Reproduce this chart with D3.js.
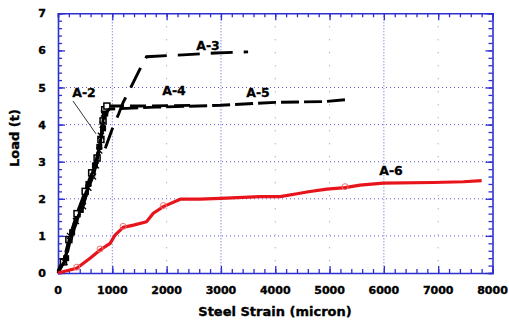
<!DOCTYPE html>
<html>
<head>
<meta charset="utf-8">
<script src="https://cdn.jsdelivr.net/npm/d3@7"></script>
<style>
  html, body { margin: 0; padding: 0; background: #fff; }
  svg { display: block; }
  .tick-label { font-family: "DejaVu Sans", sans-serif; font-weight: bold; font-size: 11px; fill: #000; stroke: #000; stroke-width: 0.35px; }
  .title { font-family: "DejaVu Sans", sans-serif; font-weight: bold; font-size: 13px; fill: #000; stroke: #000; stroke-width: 0.35px; }
  .series-label { font-family: "DejaVu Sans", sans-serif; font-weight: bold; font-size: 12.5px; fill: #000; stroke: #000; stroke-width: 0.3px; }
</style>
</head>
<body>
<svg id="chart" width="509" height="324"></svg>
<script>
// Load vs. steel strain for specimens A-2 … A-6
const strainA2 = [0, 120, 220, 330, 460, 560, 645, 700, 760, 790, 820, 845];
const loadA2   = [0.05, 0.3, 1.0, 1.4, 1.8, 2.3, 2.6, 2.9, 3.3, 3.7, 4.0, 4.3];

const strainA3 = [0, 180, 300, 480, 600, 720, 880, 990, 1120, 1200, 1340, 1510, 1630, 2300, 2900, 3500];
const loadA3   = [0.05, 0.6, 1.2, 1.9, 2.5, 3.0, 3.4, 3.85, 4.3, 4.6, 5.0, 5.5, 5.83, 5.88, 5.93, 5.96];

const strainA4 = [0, 100, 200, 350, 500, 620, 720, 790, 830, 860, 900, 1500, 2500];
const loadA4   = [0, 0.3, 0.9, 1.6, 2.2, 2.7, 3.1, 3.6, 4.1, 4.4, 4.5, 4.5, 4.52];

const strainA5 = [0, 150, 260, 420, 560, 680, 760, 830, 870, 950, 1800, 3000, 4000, 4900, 5350];
const loadA5   = [0, 0.4, 1.1, 1.7, 2.4, 2.9, 3.4, 3.9, 4.3, 4.42, 4.47, 4.52, 4.6, 4.62, 4.68];

const strainA6 = [0, 345, 590, 775, 960, 1050, 1200, 1390, 1630, 1755, 1940, 2250, 2615, 2985, 3720, 4090, 4455, 4610, 4950, 5285, 5560, 5990, 6910, 7465, 7800];
const loadA6   = [0, 0.13, 0.40, 0.62, 0.80, 1.02, 1.23, 1.29, 1.38, 1.61, 1.79, 1.99, 1.99, 2.01, 2.06, 2.06, 2.15, 2.19, 2.26, 2.30, 2.37, 2.42, 2.44, 2.46, 2.49];
const markedA6 = [345, 775, 1200, 1940, 5285];

const xTicks = [0, 1000, 2000, 3000, 4000, 5000, 6000, 7000, 8000];
const yTicks = [0, 1, 2, 3, 4, 5, 6, 7];
const xTitle = "Steel Strain (micron)";
const yTitle = "Load (t)";

const svg = d3.select("#chart");
const plotL = 58, plotR = 492.5, plotT = 13.3, plotB = 273;
const x = d3.scaleLinear().domain([0, 8000]).range([plotL, plotR]);
const y = d3.scaleLinear().domain([0, 7]).range([plotB, plotT]);
const axisBlue = "#2f2fd0";

// dotted grid
const grid = svg.append("g");
[1000, 2000, 3000, 4000, 5000, 6000, 7000].forEach(v => {
  const dense = v === 1000 || v === 3000 || v === 6000;
  grid.append("line")
    .attr("x1", x(v)).attr("x2", x(v)).attr("y1", plotT).attr("y2", plotB)
    .attr("stroke", dense ? "#5a5ad8" : "#8a8ae0")
    .attr("stroke-width", 1)
    .attr("stroke-dasharray", dense ? "1,2" : "1,12");
});
[1, 2, 3, 4, 5].forEach(v => {
  grid.append("line")
    .attr("x1", plotL).attr("x2", plotR).attr("y1", y(v)).attr("y2", y(v))
    .attr("stroke", "#5a5ad8")
    .attr("stroke-width", 1)
    .attr("stroke-dasharray", "1,3");
});

// frame with inward ticks on all four sides
function frameAxis(axisFn, scale, major, minorStep, pos, inward) {
  const g = svg.append("g").attr("transform", pos);
  const minor = d3.range(scale.domain()[0], scale.domain()[1] + 1e-9, minorStep);
  g.call(axisFn(scale).tickValues(minor).tickSize(inward * 4).tickFormat(""));
  g.selectAll(".tick line").attr("stroke", axisBlue).attr("stroke-width", 1.3);
  g.select(".domain").attr("stroke", axisBlue).attr("stroke-width", 1.6);
  const g2 = svg.append("g").attr("transform", pos);
  g2.call(axisFn(scale).tickValues(major).tickSize(inward * 7).tickFormat(""));
  g2.selectAll(".tick line").attr("stroke", axisBlue).attr("stroke-width", 1.3);
  g2.select(".domain").remove();
  return g;
}
frameAxis(d3.axisBottom, x, xTicks, 200, `translate(0,${plotB})`, -1);
frameAxis(d3.axisTop, x, xTicks, 200, `translate(0,${plotT})`, -1);
frameAxis(d3.axisLeft, y, yTicks, 0.2, `translate(${plotL},0)`, -1);
frameAxis(d3.axisRight, y, yTicks, 0.2, `translate(${plotR},0)`, -1);

// tick labels
svg.append("g").selectAll("text").data(xTicks).join("text")
  .attr("class", "tick-label").attr("x", d => x(d)).attr("y", 294)
  .attr("text-anchor", "middle").text(d => d);
svg.append("g").selectAll("text").data(yTicks).join("text")
  .attr("class", "tick-label").attr("x", 46).attr("y", d => y(d) + 4)
  .attr("text-anchor", "end").text(d => d);

// axis titles
svg.append("text").attr("class", "title").attr("x", 275).attr("y", 316)
  .attr("text-anchor", "middle").text(xTitle);
svg.append("text").attr("class", "title")
  .attr("transform", `translate(19,138) rotate(-90)`)
  .attr("text-anchor", "middle").text(yTitle);

const line = d3.line().x(d => x(d[0])).y(d => y(d[1]));
const zip = (a, b) => a.map((v, i) => [v, b[i]]);

const plot = svg.append("g");

function blackSeries(xs, ys, dash, marker) {
  const pts = zip(xs, ys);
  plot.append("path").datum(pts).attr("d", line)
    .attr("fill", "none").attr("stroke", "#000").attr("stroke-width", 2.9)
    .attr("stroke-dasharray", dash);
  const steep = pts.filter(p => p[0] <= 900 && p[0] > 0);
  steep.forEach(p => {
    const cx = x(p[0]), cy = y(p[1]);
    if (marker === "x") {
      plot.append("path").attr("d", `M${cx-3},${cy-3}L${cx+3},${cy+3}M${cx-3},${cy+3}L${cx+3},${cy-3}`)
        .attr("stroke", "#000").attr("stroke-width", 1.3);
    } else if (marker === "square") {
      plot.append("rect").attr("x", cx - 3).attr("y", cy - 3).attr("width", 6).attr("height", 6)
        .attr("fill", "#fff").attr("stroke", "#000").attr("stroke-width", 1.5);
    } else if (marker === "fill") {
      plot.append("rect").attr("x", cx - 3).attr("y", cy - 3).attr("width", 6).attr("height", 6)
        .attr("fill", "#000");
    }
  });
}

blackSeries(strainA3, loadA3, "22,11", null);
blackSeries(strainA4, loadA4, "16,6", "square");
blackSeries(strainA5, loadA5, "18,5", "fill");
blackSeries(strainA2, loadA2, "10,3", "x");

// A-6 in red
plot.append("path").datum(zip(strainA6, loadA6)).attr("d", line)
  .attr("fill", "none").attr("stroke", "#e8141b").attr("stroke-width", 3.2)
  .attr("stroke-linejoin", "round");
markedA6.forEach(s => {
  const i = strainA6.indexOf(s);
  plot.append("circle").attr("cx", x(s)).attr("cy", y(loadA6[i]) - 1).attr("r", 3)
    .attr("fill", "none").attr("stroke", "#f07070").attr("stroke-width", 1);
});

// series labels
const labels = [
  { t: "A-2", px: 84, py: 97 },
  { t: "A-3", px: 208, py: 50 },
  { t: "A-4", px: 174, py: 95 },
  { t: "A-5", px: 258, py: 97 },
  { t: "A-6", px: 391, py: 175 }
];
svg.append("g").selectAll("text").data(labels).join("text")
  .attr("class", "series-label").attr("x", d => d.px).attr("y", d => d.py)
  .attr("text-anchor", "middle").text(d => d.t);

// leader from A-2 label to its curve
svg.append("line").attr("x1", 73).attr("y1", 101).attr("x2", x(700)).attr("y2", y(3.75))
  .attr("stroke", "#000").attr("stroke-width", 0.8);
</script>
</body>
</html>
